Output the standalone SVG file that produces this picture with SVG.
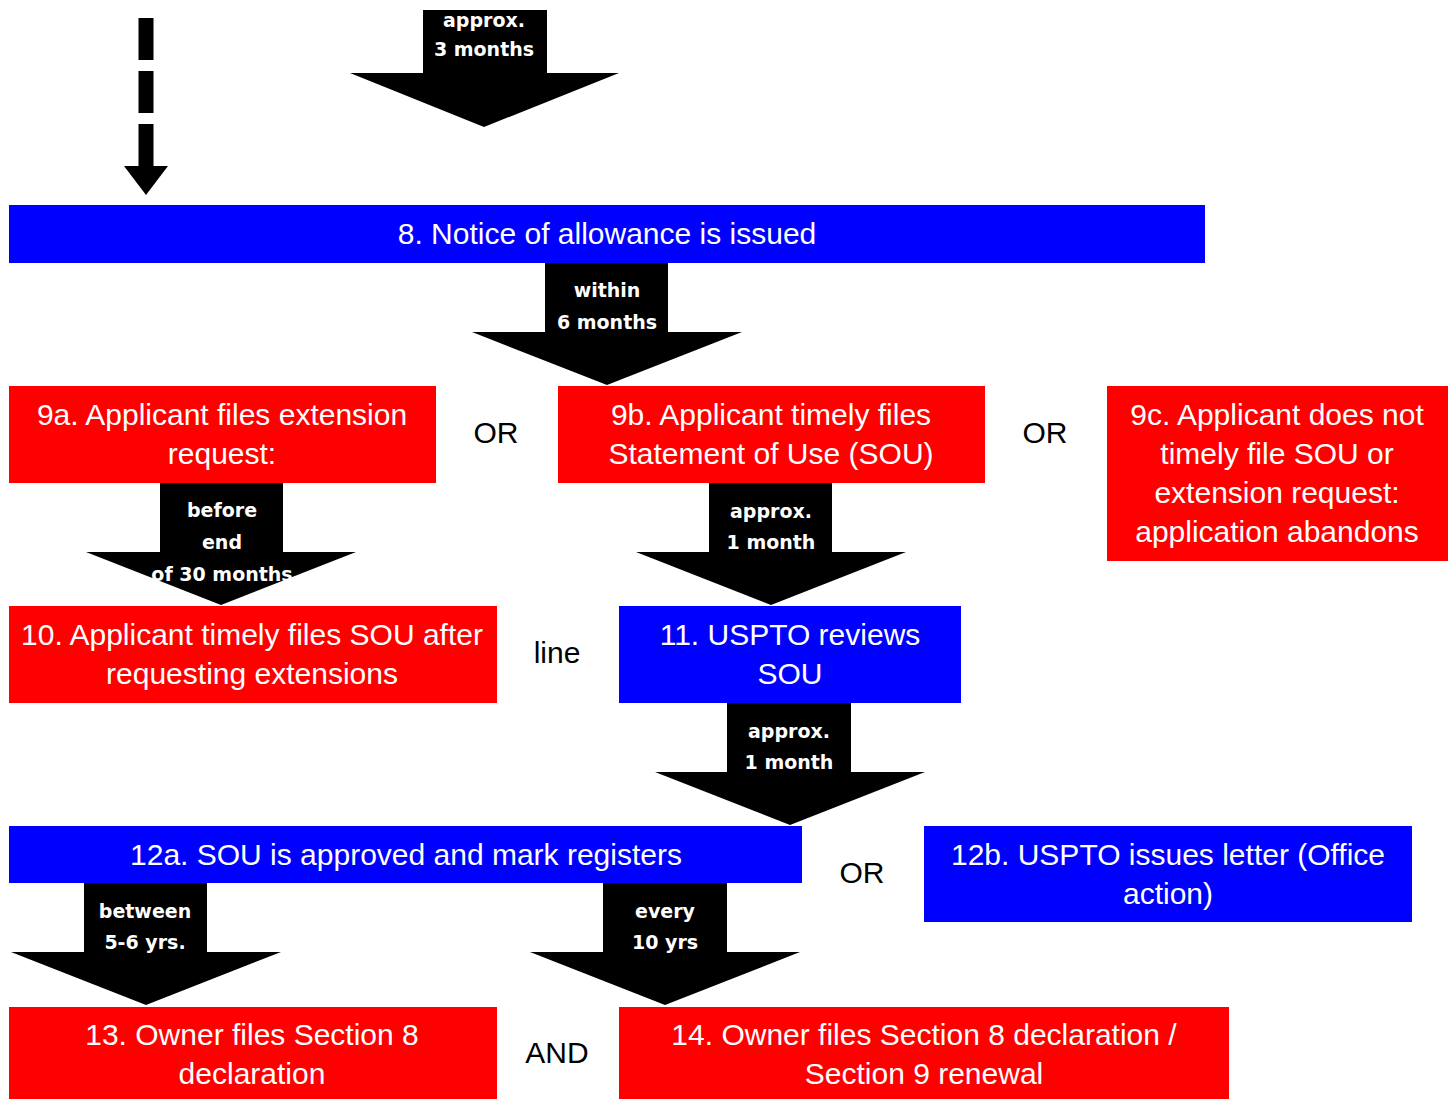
<svg xmlns="http://www.w3.org/2000/svg" width="1455" height="1099" viewBox="0 0 1455 1099">
<style>
.red{fill:#ff0000}
.blue{fill:#0000ff}
.bt{font-family:"Liberation Sans",Arial,sans-serif;font-size:30px;fill:#ffffff;text-anchor:middle}
.lt{font-family:"Liberation Sans",Arial,sans-serif;font-size:30px;fill:#000000;text-anchor:middle}
.al{font-family:"DejaVu Sans",Verdana,sans-serif;font-weight:bold;font-size:19px;fill:#ffffff;text-anchor:middle}
.arr{fill:#000000}
</style>
<rect width="1455" height="1099" fill="#ffffff"/>
<g id="connectors">
  <g id="dashed-arrow">
    <line x1="146" y1="18" x2="146" y2="166" stroke="#000" stroke-width="15" stroke-dasharray="42 11"/>
    <polygon class="arr" points="124,166 168,166 146,195"/>
  </g>
  <g id="arrow-3months">
    <polygon class="arr" points="423,10 547,10 547,73 619,73 484,127 350,73 423,73"/>
    <text class="al" x="484" y="27">approx.</text>
    <text class="al" x="484" y="56">3 months</text>
  </g>
  <g id="arrow-6months">
    <polygon class="arr" points="545,263 668,263 668,332 742,332 607,385 472,332 545,332"/>
    <text class="al" x="607" y="297">within</text>
    <text class="al" x="607" y="329">6 months</text>
  </g>
  <g id="arrow-30months">
    <polygon class="arr" points="160,483 283,483 283,552 356,552 221,605 86,552 160,552"/>
    <text class="al" x="222" y="517">before</text>
    <text class="al" x="222" y="549">end</text>
    <text class="al" x="222" y="581">of 30 months</text>
  </g>
  <g id="arrow-1month-a">
    <polygon class="arr" points="709,483 832,483 832,552 906,552 771,605 636,552 709,552"/>
    <text class="al" x="771" y="518">approx.</text>
    <text class="al" x="771" y="549">1 month</text>
  </g>
  <g id="arrow-1month-b">
    <polygon class="arr" points="727,703 851,703 851,772 925,772 790,825 655,772 727,772"/>
    <text class="al" x="789" y="738">approx.</text>
    <text class="al" x="789" y="769">1 month</text>
  </g>
  <g id="arrow-5-6yrs">
    <polygon class="arr" points="84,883 207,883 207,952 281,952 146,1005 11,952 84,952"/>
    <text class="al" x="145" y="918">between</text>
    <text class="al" x="145" y="949">5-6 yrs.</text>
  </g>
  <g id="arrow-10yrs">
    <polygon class="arr" points="603,883 727,883 727,952 800,952 665,1005 530,952 603,952"/>
    <text class="al" x="665" y="918">every</text>
    <text class="al" x="665" y="949">10 yrs</text>
  </g>
</g>
<g id="node-8">
  <rect class="blue" x="9" y="205" width="1196" height="58"/>
  <text class="bt" x="607" y="244">8. Notice of allowance is issued</text>
</g>
<g id="node-9a">
  <rect class="red" x="9" y="386" width="427" height="97"/>
  <text class="bt" x="222" y="425">9a. Applicant files extension</text>
  <text class="bt" x="222" y="464">request:</text>
</g>
<g id="or-1"><text class="lt" x="496" y="443">OR</text></g>
<g id="node-9b">
  <rect class="red" x="558" y="386" width="427" height="97"/>
  <text class="bt" x="771" y="425">9b. Applicant timely files</text>
  <text class="bt" x="771" y="464">Statement of Use (SOU)</text>
</g>
<g id="or-2"><text class="lt" x="1045" y="443">OR</text></g>
<g id="node-9c">
  <rect class="red" x="1107" y="386" width="341" height="175"/>
  <text class="bt" x="1277" y="425">9c. Applicant does not</text>
  <text class="bt" x="1277" y="464">timely file SOU or</text>
  <text class="bt" x="1277" y="503">extension request:</text>
  <text class="bt" x="1277" y="542">application abandons</text>
</g>
<g id="node-10">
  <rect class="red" x="9" y="606" width="488" height="97"/>
  <text class="bt" x="252" y="645">10. Applicant timely files SOU after</text>
  <text class="bt" x="252" y="684">requesting extensions</text>
</g>
<g id="line-label"><text class="lt" x="557" y="663">line</text></g>
<g id="node-11">
  <rect class="blue" x="619" y="606" width="342" height="97"/>
  <text class="bt" x="790" y="645">11. USPTO reviews</text>
  <text class="bt" x="790" y="684">SOU</text>
</g>
<g id="node-12a">
  <rect class="blue" x="9" y="826" width="793" height="57"/>
  <text class="bt" x="406" y="865">12a. SOU is approved and mark registers</text>
</g>
<g id="or-3"><text class="lt" x="862" y="883">OR</text></g>
<g id="node-12b">
  <rect class="blue" x="924" y="826" width="488" height="96"/>
  <text class="bt" x="1168" y="865">12b. USPTO issues letter (Office</text>
  <text class="bt" x="1168" y="904">action)</text>
</g>
<g id="node-13">
  <rect class="red" x="9" y="1007" width="488" height="95"/>
  <text class="bt" x="252" y="1045">13. Owner files Section 8</text>
  <text class="bt" x="252" y="1084">declaration</text>
</g>
<g id="and"><text class="lt" x="557" y="1063">AND</text></g>
<g id="node-14">
  <rect class="red" x="619" y="1007" width="610" height="95"/>
  <text class="bt" x="924" y="1045">14. Owner files Section 8 declaration /</text>
  <text class="bt" x="924" y="1084">Section 9 renewal</text>
</g>
</svg>
